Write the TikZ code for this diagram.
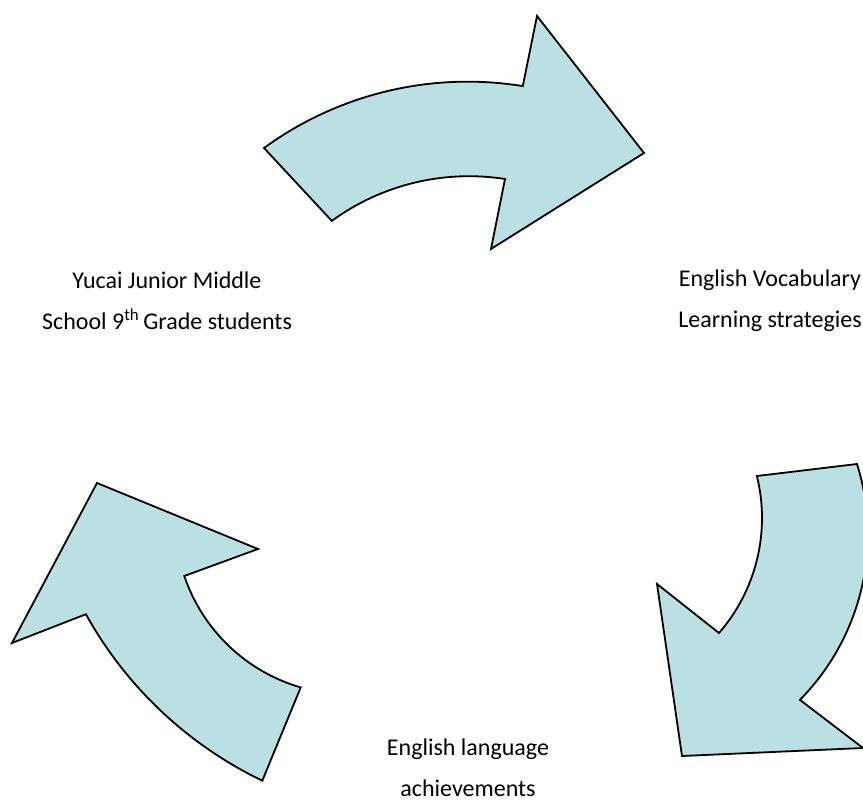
\documentclass[tikz,border=0pt]{standalone}
\usepackage{fontspec}
\setmainfont{Carlito}
\usepackage{xcolor}
\definecolor{arrowfill}{RGB}{186,224,228}
\tikzset{
  cyclearrow/.style={draw=black,fill=arrowfill,line width=1.8pt,line join=miter},
  cyclelabel/.style={font=\fontsize{24}{41}\selectfont,align=center,inner sep=0pt}
}

\begin{document}
\begin{tikzpicture}[x=1pt,y=-1pt]
\useasboundingbox (0,0) rectangle (863,800);
% top arrow
\path[cyclearrow] (264,148) arc[start angle=-126.1,end angle=-80.8,radius=345.5] -- (537,16) -- (644,153) -- (491,249) -- (505,179) arc[start angle=-81.1,end angle=-126.1,radius=232.8] -- cycle;
% right arrow
\path[cyclearrow] (757,476) -- (857,464) arc[start angle=-17.4,end angle=44.6,radius=235.6] -- (863,748) -- (682,756) -- (657,584) -- (719,633) arc[start angle=41.0,end angle=-13.8,radius=175.3] -- cycle;
% left arrow
\path[cyclearrow] (97,483) -- (258,549) -- (184.3,576) arc[start angle=161.3,end angle=106.2,radius=174.2] -- (262.3,780.7) arc[start angle=115.7,end angle=151.0,radius=400] -- (12,643) -- cycle;
% labels
\node[cyclelabel] (students) at (167,301) {Yucai Junior Middle\\School 9\textsuperscript{th}\,Grade students};
\node[cyclelabel] (strategies) at (770,301) {English Vocabulary\\Learning strategies};
\node[cyclelabel] (achievements) at (468,768) {English language\\achievements};
\end{tikzpicture}
\end{document}
